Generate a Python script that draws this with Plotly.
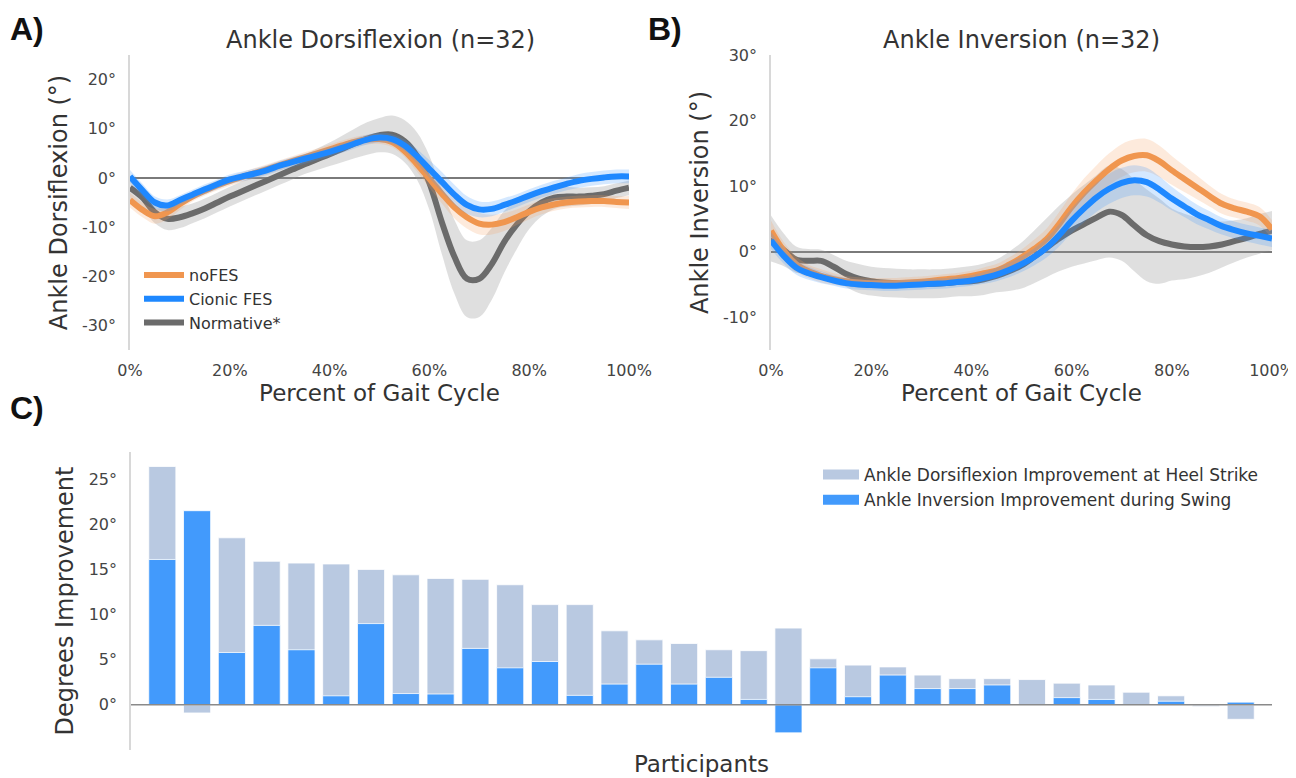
import plotly.graph_objects as go

# ---------------- data ----------------
pct = [0, 2.5, 5, 7.5, 10, 12.5, 15, 17.5, 20, 22.5, 25, 27.5, 30, 32.5, 35, 37.5, 40,
       42.5, 45, 47.5, 50, 52.5, 55, 57.5, 60, 62.5, 65, 67.5, 70, 72.5, 75, 77.5, 80,
       82.5, 85, 87.5, 90, 92.5, 95, 97.5, 100]

# Panel A: ankle dorsiflexion (deg)
dorsi_nofes = [-4.5, -6.5, -7.8, -7.0, -5.3, -3.8, -2.6, -1.5, -0.6, 0.2, 1.0, 1.8, 2.6, 3.4,
               4.2, 5.0, 5.8, 6.6, 7.3, 7.8, 7.9, 7.3, 5.5, 2.8, -0.2, -3.2, -6.0, -8.0, -9.3,
               -9.5, -9.0, -8.0, -6.9, -6.0, -5.4, -5.0, -4.8, -4.7, -4.7, -4.9, -5.0]
dorsi_nofes_sd = [1.5, 1.5, 1.5, 1.4, 1.2, 1.0, 1.0, 1.0, 1.0, 1.0, 1.0, 1.0, 1.0, 1.0, 1.0,
                  1.0, 1.0, 1.0, 1.0, 1.0, 1.0, 1.0, 1.2, 1.5, 1.8, 2.0, 2.2, 2.3, 2.2, 2.0,
                  1.8, 1.6, 1.5, 1.4, 1.3, 1.2, 1.2, 1.2, 1.2, 1.2, 1.3]
dorsi_fes = [0.3, -2.5, -5.0, -5.6, -4.5, -3.4, -2.3, -1.3, -0.3, 0.3, 0.9, 1.6, 2.5, 3.2,
             3.9, 4.6, 5.3, 6.1, 7.0, 7.8, 8.2, 7.9, 6.6, 4.4, 1.8, -0.8, -3.4, -5.5, -6.4,
             -6.3, -5.5, -4.6, -3.6, -2.7, -1.9, -1.2, -0.6, -0.2, 0.1, 0.3, 0.3]
dorsi_fes_sd = [1.3, 1.3, 1.2, 1.2, 1.0, 1.0, 1.0, 1.0, 1.0, 1.0, 1.0, 1.0, 1.0, 1.0, 1.0,
                1.0, 1.0, 1.0, 1.0, 1.0, 1.0, 1.0, 1.2, 1.5, 1.8, 2.0, 2.0, 1.8, 1.6, 1.5,
                1.4, 1.3, 1.3, 1.3, 1.3, 1.3, 1.4, 1.4, 1.4, 1.4, 1.4]
dorsi_norm = [-2.0, -4.0, -7.0, -8.3, -8.0, -7.2, -6.2, -5.0, -3.8, -2.7, -1.6, -0.5, 0.6,
              1.7, 2.8, 3.8, 4.8, 5.9, 7.0, 8.0, 8.7, 8.8, 7.5, 4.5, -1.0, -9.0, -16.0,
              -20.5, -20.5, -17.5, -13.0, -9.5, -6.8, -5.0, -4.0, -3.8, -3.8, -3.6, -3.3,
              -2.6, -2.0]
dorsi_norm_sd = [2.5, 2.2, 2.2, 2.3, 2.2, 2.0, 2.0, 2.0, 2.0, 2.0, 2.0, 2.0, 2.0, 2.0, 2.0,
                 2.2, 2.4, 2.7, 3.0, 3.3, 3.5, 3.9, 4.3, 4.8, 5.5, 6.5, 7.5, 7.8, 7.8, 7.3,
                 6.3, 5.0, 3.6, 2.8, 2.3, 2.0, 1.8, 1.7, 1.6, 1.5, 1.5]

# Panel B: ankle inversion (deg)
inv_nofes = [3.2, 0.2, -1.9, -3.0, -3.7, -4.2, -4.5, -4.7, -4.8, -4.8, -4.8, -4.7, -4.6,
             -4.4, -4.2, -4.0, -3.7, -3.3, -2.9, -2.0, -0.9, 0.4, 1.9, 4.2, 6.8, 9.0, 10.9,
             12.6, 13.9, 14.6, 14.7, 13.8, 12.4, 11.1, 9.8, 8.5, 7.3, 6.6, 6.1, 5.4, 3.4]
inv_nofes_sd = [1.5, 1.3, 1.2, 1.0, 1.0, 0.9, 0.8, 0.8, 0.8, 0.8, 0.8, 0.8, 0.8, 0.8, 0.8,
                0.8, 0.8, 0.9, 1.0, 1.1, 1.2, 1.4, 1.6, 1.8, 2.0, 2.2, 2.3, 2.4, 2.5, 2.5,
                2.5, 2.4, 2.2, 2.0, 1.8, 1.6, 1.5, 1.4, 1.4, 1.4, 1.4]
inv_fes = [1.7, -0.6, -2.4, -3.3, -3.9, -4.4, -4.8, -5.0, -5.1, -5.2, -5.2, -5.1, -5.0,
           -4.9, -4.8, -4.6, -4.4, -4.0, -3.5, -2.8, -1.9, -0.8, 0.6, 2.5, 4.7, 6.6, 8.3,
           9.6, 10.5, 10.9, 10.6, 9.5, 8.1, 6.9, 5.7, 4.8, 3.9, 3.3, 2.8, 2.4, 2.0]
inv_fes_sd = [1.3, 1.2, 1.1, 1.0, 0.9, 0.8, 0.8, 0.8, 0.8, 0.8, 0.8, 0.8, 0.8, 0.8, 0.8,
              0.8, 0.8, 0.9, 1.0, 1.1, 1.2, 1.3, 1.5, 1.7, 1.9, 2.1, 2.2, 2.3, 2.3, 2.3,
              2.2, 2.0, 1.8, 1.6, 1.5, 1.4, 1.3, 1.3, 1.3, 1.3, 1.3]
inv_norm = [2.0, 0.3, -1.2, -1.4, -1.4, -2.3, -3.4, -4.1, -4.5, -4.7, -4.8, -4.9, -4.9,
            -4.9, -4.8, -4.6, -4.5, -4.2, -3.7, -3.0, -2.1, -0.8, 0.6, 2.0, 3.2, 4.2, 5.2,
            6.1, 5.6, 4.0, 2.5, 1.6, 1.1, 0.8, 0.7, 0.8, 1.1, 1.6, 2.1, 2.7, 3.2]
inv_norm_sd = [3.5, 2.5, 2.0, 1.8, 1.7, 1.8, 2.0, 2.2, 2.2, 2.2, 2.2, 2.2, 2.2, 2.2, 2.2,
               2.2, 2.3, 2.4, 2.5, 3.0, 3.5, 4.0, 4.5, 5.0, 5.5, 6.0, 6.5, 7.0, 7.0, 7.0,
               7.0, 6.5, 5.5, 5.0, 4.5, 4.0, 3.5, 3.2, 3.0, 3.0, 3.0]

# Panel C: per-participant improvement (deg)
participants = list(range(1, 33))
dorsi_improvement = [26.4, -0.9, 18.5, 15.9, 15.7, 15.6, 15.0, 14.4, 14.0, 13.9, 13.3, 11.1,
                     11.1, 8.2, 7.2, 6.8, 6.1, 6.0, 8.5, 5.1, 4.4, 4.2, 3.3, 2.9, 2.9, 2.8,
                     2.4, 2.2, 1.4, 1.0, -0.2, -1.6]
inversion_improvement = [16.1, 21.5, 5.8, 8.8, 6.1, 1.0, 9.0, 1.25, 1.2, 6.25, 4.1, 4.8,
                         1.05, 2.3, 4.5, 2.3, 3.05, 0.6, -3.1, 4.1, 0.9, 3.3, 1.8, 1.8, 2.2,
                         0.0, 0.8, 0.6, 0.0, 0.4, 0.0, 0.3]

gait_ticks = [0, 20, 40, 60, 80, 100]
gait_ticktext = ["0%", "20%", "40%", "60%", "80%", "100%"]
dorsi_ticks = [-30, -20, -10, 0, 10, 20]
dorsi_ticktext = ["-30°", "-20°", "-10°", "0°", "10°", "20°"]
inv_ticks = [-10, 0, 10, 20, 30]
inv_ticktext = ["-10°", "0°", "10°", "20°", "30°"]
imp_ticks = [0, 5, 10, 15, 20, 25]
imp_ticktext = ["0°", "5°", "10°", "15°", "20°", "25°"]

# ---------------- styling ----------------
FONT = "DejaVu Sans"
ORANGE = "#f0964f"
BLUE = "#1e88ff"
GRAY = "#6b6b6b"
ORANGE_BAND = "rgba(244,160,95,0.22)"
BLUE_BAND = "rgba(60,150,255,0.22)"
GRAY_BAND = "rgba(150,150,150,0.30)"
LIGHT_BAR = "#b9c9e1"
BAR_BLUE = "#429afc"

fig = go.Figure()


def add_series(xa, ya, mean, sd, color, band, name, rank, showleg):
    upper = [m + s for m, s in zip(mean, sd)]
    lower = [m - s for m, s in zip(mean, sd)]
    fig.add_trace(go.Scatter(x=pct, y=lower, mode="lines", line=dict(width=0, shape="spline"),
                             xaxis=xa, yaxis=ya, showlegend=False, hoverinfo="skip"))
    fig.add_trace(go.Scatter(x=pct, y=upper, mode="lines", line=dict(width=0, shape="spline"),
                             fill="tonexty", fillcolor=band,
                             xaxis=xa, yaxis=ya, showlegend=False, hoverinfo="skip"))
    fig.add_trace(go.Scatter(x=pct, y=mean, mode="lines", name=name,
                             line=dict(color=color, width=6, shape="spline"),
                             xaxis=xa, yaxis=ya, showlegend=showleg, legendrank=rank,
                             legend="legend"))


# Panel A
add_series("x", "y", dorsi_norm, dorsi_norm_sd, GRAY, GRAY_BAND, "Normative*", 3, True)
add_series("x", "y", dorsi_nofes, dorsi_nofes_sd, ORANGE, ORANGE_BAND, "noFES", 1, True)
add_series("x", "y", dorsi_fes, dorsi_fes_sd, BLUE, BLUE_BAND, "Cionic FES", 2, True)
# Panel B
add_series("x2", "y2", inv_norm, inv_norm_sd, GRAY, GRAY_BAND, "Normative*", 3, False)
add_series("x2", "y2", inv_nofes, inv_nofes_sd, ORANGE, ORANGE_BAND, "noFES", 1, False)
add_series("x2", "y2", inv_fes, inv_fes_sd, BLUE, BLUE_BAND, "Cionic FES", 2, False)

# Panel C
bar_names = ["Ankle Dorsiflexion Improvement at Heel Strike",
             "Ankle Inversion Improvement during Swing"]
fig.add_trace(go.Bar(x=participants, y=dorsi_improvement, width=0.78, name=bar_names[0],
                     marker=dict(color=LIGHT_BAR, line=dict(color="rgba(255,255,255,0.8)", width=1)),
                     xaxis="x3", yaxis="y3", showlegend=False))
fig.add_trace(go.Bar(x=participants, y=inversion_improvement, width=0.78, name=bar_names[1],
                     marker=dict(color=BAR_BLUE, line=dict(color="rgba(255,255,255,0.8)", width=1)),
                     xaxis="x3", yaxis="y3", showlegend=False))
# legend proxies (wide rectangles like the reference legend)
for nm, col in zip(bar_names, [LIGHT_BAR, BAR_BLUE]):
    fig.add_trace(go.Scatter(x=[None], y=[None], mode="lines", name=nm,
                             line=dict(color=col, width=14),
                             xaxis="x3", yaxis="y3", legend="legend2"))

# The page body adds an 8px margin, so the figure is sized to fit the window
OFF = 8
W, H = 1296 - OFF, 778 - OFF


def px_x(p):
    return (p - OFF) / W


def px_y(p):
    return 1 - (p - OFF) / H


tickfont = dict(family=FONT, size=16, color="#444444")
xtitlefont = dict(family=FONT, size=23, color="#333333")
ytitlefont = dict(family=FONT, size=24, color="#333333")
spine = "#d8d8d8"

common_x = dict(range=[0, 100], tickvals=gait_ticks, ticktext=gait_ticktext, showgrid=False,
                zeroline=False, showline=False, ticks="outside", ticklen=6, automargin=False,
                tickcolor="rgba(0,0,0,0)", tickfont=tickfont,
                title=dict(text="Percent of Gait Cycle", font=xtitlefont, standoff=5))
common_y = dict(showgrid=False, zeroline=True, zerolinecolor="#7a7a7a", zerolinewidth=1.5,
                showline=True, linecolor=spine, linewidth=1.5, automargin=False,
                ticks="outside", ticklen=9, tickcolor="rgba(0,0,0,0)", tickfont=tickfont)

fig.update_layout(
    width=W, height=H, autosize=False,
    margin=dict(l=0, r=0, t=0, b=0, pad=0, autoexpand=False),
    paper_bgcolor="white", plot_bgcolor="white",
    barmode="overlay",
    font=dict(family=FONT, color="#333333"),
    xaxis=dict(domain=[px_x(130), px_x(629)], anchor="y", **common_x),
    yaxis=dict(domain=[px_y(350), px_y(55)], anchor="x", range=[-35, 25],
               tickvals=dorsi_ticks, ticktext=dorsi_ticktext,
               title=dict(text="Ankle Dorsiflexion (°)", font=ytitlefont, standoff=8), **common_y),
    xaxis2=dict(domain=[px_x(771), px_x(1272)], anchor="y2", **common_x),
    yaxis2=dict(domain=[px_y(350), px_y(55)], anchor="x2", range=[-15, 30],
                tickvals=inv_ticks, ticktext=inv_ticktext,
                title=dict(text="Ankle Inversion (°)", font=ytitlefont, standoff=8), **common_y),
    xaxis3=dict(domain=[px_x(131), px_x(1272)], anchor="y3", range=[0.1, 32.9],
                showticklabels=False, showgrid=False, zeroline=False, showline=False,
                ticks="", automargin=False,
                title=dict(text="Participants", font=xtitlefont, standoff=5)),
    yaxis3=dict(domain=[px_y(750), px_y(452)], anchor="x3", range=[-5, 28],
                tickvals=imp_ticks, ticktext=imp_ticktext, showgrid=False,
                zeroline=False, showline=True, linecolor=spine, linewidth=1.5, automargin=False,
                ticks="outside", ticklen=9, tickcolor="rgba(0,0,0,0)", tickfont=tickfont,
                title=dict(text="Degrees Improvement", font=ytitlefont, standoff=8)),
    legend=dict(x=px_x(139), y=px_y(258), xanchor="left", yanchor="top",
                bgcolor="rgba(255,255,255,0)", font=dict(family=FONT, size=16, color="#333333"),
                itemwidth=40, tracegroupgap=0, traceorder="normal"),
    legend2=dict(x=px_x(818), y=px_y(457), xanchor="left", yanchor="top",
                 bgcolor="rgba(255,255,255,0)", font=dict(family=FONT, size=17, color="#333333"),
                 itemwidth=36, traceorder="normal"),
    showlegend=True,
)

# zero line for panel C drawn above bars
fig.add_shape(type="line", xref="x3 domain", yref="y3", x0=0, x1=1, y0=0, y1=0,
              line=dict(color="#8a8a8a", width=1.5), layer="above")

# titles and panel letters
fig.add_annotation(text="Ankle Dorsiflexion (n=32)", xref="paper", yref="paper",
                   x=px_x(380), y=px_y(40), xanchor="center", yanchor="middle",
                   showarrow=False, font=dict(family=FONT, size=24, color="#333333"))
fig.add_annotation(text="Ankle Inversion (n=32)", xref="paper", yref="paper",
                   x=px_x(1021), y=px_y(40), xanchor="center", yanchor="middle",
                   showarrow=False, font=dict(family=FONT, size=24, color="#333333"))
for letter, lx, ly in [("A)", 27, 29), ("B)", 665, 29), ("C)", 27, 408)]:
    fig.add_annotation(text="<b>" + letter + "</b>", xref="paper", yref="paper",
                       x=px_x(lx), y=px_y(ly), xanchor="center", yanchor="middle",
                       showarrow=False,
                       font=dict(family="Liberation Sans", size=32, color="#111111"))

fig.write_html("out.html")
